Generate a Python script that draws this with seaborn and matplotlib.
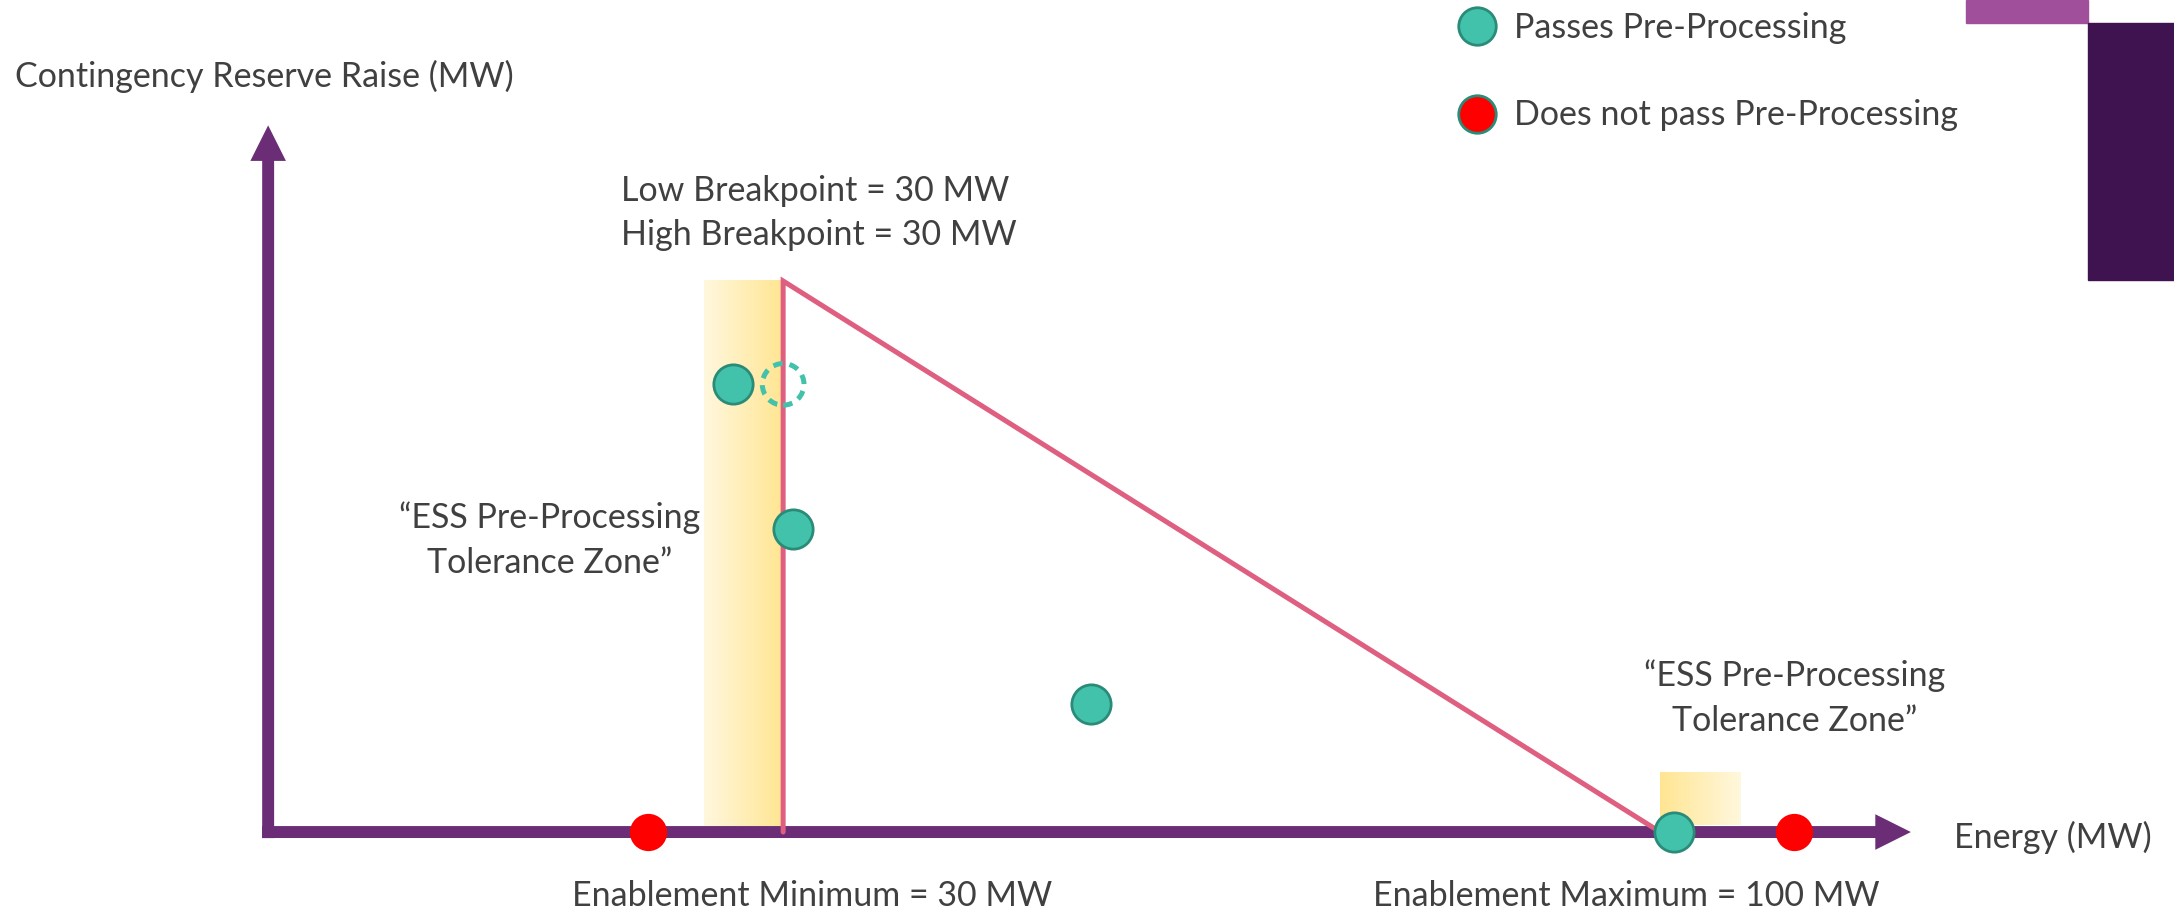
import numpy as np
import pandas as pd
import matplotlib.pyplot as plt
import seaborn as sns
from matplotlib.colors import LinearSegmentedColormap
from matplotlib.lines import Line2D
from matplotlib.patches import Rectangle

# Trapezium (here a triangle, breakpoints equal the enablement minimum)
enablement_min = 30
enablement_max = 100
low_breakpoint = 30
high_breakpoint = 30
max_reserve = 40
trap_energy = [enablement_min, low_breakpoint, enablement_max]
trap_reserve = [0, max_reserve, 0]

# Offer points (energy MW, reserve MW)
point_energy = [26.0, 30.8, 54.6, 101.1, 19.2, 110.7]
point_reserve = [32.5, 22.0, 9.3, 0.0, 0.0, 0.0]
point_status = ['Passes', 'Passes', 'Passes', 'Passes', 'Fails', 'Fails']

# Point moved onto the trapezium by pre-processing
projected_energy = [30.0]
projected_reserve = [32.5]

# Tolerance zones
zone_low_energy = [23.7, 30.0]
zone_low_reserve = [0.0, 40.0]
zone_high_energy = [100.0, 106.4]
zone_high_reserve = [0.5, 4.3]

# Axis arrows
axis_origin = [-11.1, 0.0]
x_axis_end = 120.0
y_axis_end = 51.3

W, H = 2174, 914
purple = '#6B2D76'
pink = '#DE5F80'
teal = '#42C2AA'
teal_edge = '#2A8C78'
red = '#FF0000'
text_col = '#404040'

sns.set_theme(style='white')
plt.rcParams['font.family'] = ['Lato', 'DejaVu Sans']

fig = plt.figure(figsize=(W / 100, H / 100), dpi=100)
ax = fig.add_axes([0, 0, 1, 1])
ax.axis('off')

def fpx(x, y):
    return x / W, 1 - y / H

# tolerance zone gradients
zone_cmap = LinearSegmentedColormap.from_list('zone', ['#FFF8DE', '#FFE592'])
grad = np.linspace(0, 1, 256).reshape(1, -1)
ax.imshow(grad, cmap=zone_cmap, aspect='auto', interpolation='bilinear',
          extent=[zone_low_energy[0], zone_low_energy[1], zone_low_reserve[0], zone_low_reserve[1]], zorder=1)
ax.imshow(grad[:, ::-1], cmap=zone_cmap, aspect='auto', interpolation='bilinear',
          extent=[zone_high_energy[0], zone_high_energy[1], zone_high_reserve[0], zone_high_reserve[1]], zorder=1)

# axes arrows (filled, no stroke so the heads stay sharp)
arrow_kw = dict(arrowstyle='simple,head_length=25.6,head_width=25.6,tail_width=8.6',
                mutation_scale=1, lw=0, color=purple, shrinkA=0, shrinkB=0)
ax.annotate('', xy=(x_axis_end, 0), xytext=(axis_origin[0] - 0.48, 0),
            arrowprops=arrow_kw, zorder=2)
ax.annotate('', xy=(axis_origin[0], y_axis_end), xytext=(axis_origin[0], -0.44),
            arrowprops=arrow_kw, zorder=2)

# trapezium
trap = pd.DataFrame({'energy': trap_energy, 'reserve': trap_reserve})
sns.lineplot(data=trap, x='energy', y='reserve', sort=False, estimator=None,
             color=pink, lw=3.6, ax=ax, zorder=3)
ax.lines[-1].set_solid_joinstyle('miter')

# points
pts = pd.DataFrame({'energy': point_energy, 'reserve': point_reserve, 'status': point_status})
sns.scatterplot(data=pts[pts.status == 'Passes'], x='energy', y='reserve', s=800,
                color=teal, edgecolor=teal_edge, linewidth=2.0, ax=ax, zorder=5, legend=False)
sns.scatterplot(data=pts[pts.status == 'Fails'], x='energy', y='reserve', s=720,
                color=red, linewidth=0, ax=ax, zorder=5, legend=False)
sns.scatterplot(x=projected_energy, y=projected_reserve, s=900, facecolor='none',
                edgecolor=teal, linewidth=3.6, linestyle=(0, (1.9, 1.4)), ax=ax, zorder=5)

ax.set_xlim(-32.5, 141.0)
ax.set_ylim(-5.95, 60.4)

# texts
fs = 24.5
tk = dict(fontsize=fs, color=text_col)
fig.text(*fpx(15, 87), 'Contingency Reserve Raise (MW)', ha='left', va='baseline', **tk)
fig.text(*fpx(621, 201), 'Low Breakpoint = 30 MW', ha='left', va='baseline', **tk)
fig.text(*fpx(621, 245), 'High Breakpoint = 30 MW', ha='left', va='baseline', **tk)
fig.text(*fpx(550, 528), '\u201cESS Pre-Processing', ha='center', va='baseline', **tk)
fig.text(*fpx(550, 573), 'Tolerance Zone\u201d', ha='center', va='baseline', **tk)
fig.text(*fpx(1795, 686), '\u201cESS Pre-Processing', ha='center', va='baseline', **tk)
fig.text(*fpx(1795, 731), 'Tolerance Zone\u201d', ha='center', va='baseline', **tk)
fig.text(*fpx(812, 906), 'Enablement Minimum = 30 MW', ha='center', va='baseline', **tk)
fig.text(*fpx(1626, 906), 'Enablement Maximum = 100 MW', ha='center', va='baseline', **tk)
fig.text(*fpx(1954, 848), 'Energy (MW)', ha='left', va='baseline', **tk)

# legend
handles = [
    Line2D([], [], ls='', marker='o', markersize=27, markerfacecolor=teal,
           markeredgecolor=teal_edge, markeredgewidth=2.0, label='Passes Pre-Processing'),
    Line2D([], [], ls='', marker='o', markersize=27, markerfacecolor=red,
           markeredgecolor=teal_edge, markeredgewidth=2.0, label='Does not pass Pre-Processing'),
]
fig.legend(handles=handles, loc='upper left', bbox_to_anchor=fpx(1460, 12),
           frameon=False, fontsize=fs, labelcolor=text_col, handlelength=1.0,
           handletextpad=0.6, labelspacing=1.63, borderpad=0, borderaxespad=0)

# corner decoration
fig.patches.append(Rectangle(fpx(1966, 23), 122 / W, 23 / H, transform=fig.transFigure,
                             color='#A0509A', zorder=0))
fig.patches.append(Rectangle(fpx(2088, 280), 86 / W, 257 / H, transform=fig.transFigure,
                             color='#3E1350', zorder=0))

fig.savefig('out.png', dpi=100)
